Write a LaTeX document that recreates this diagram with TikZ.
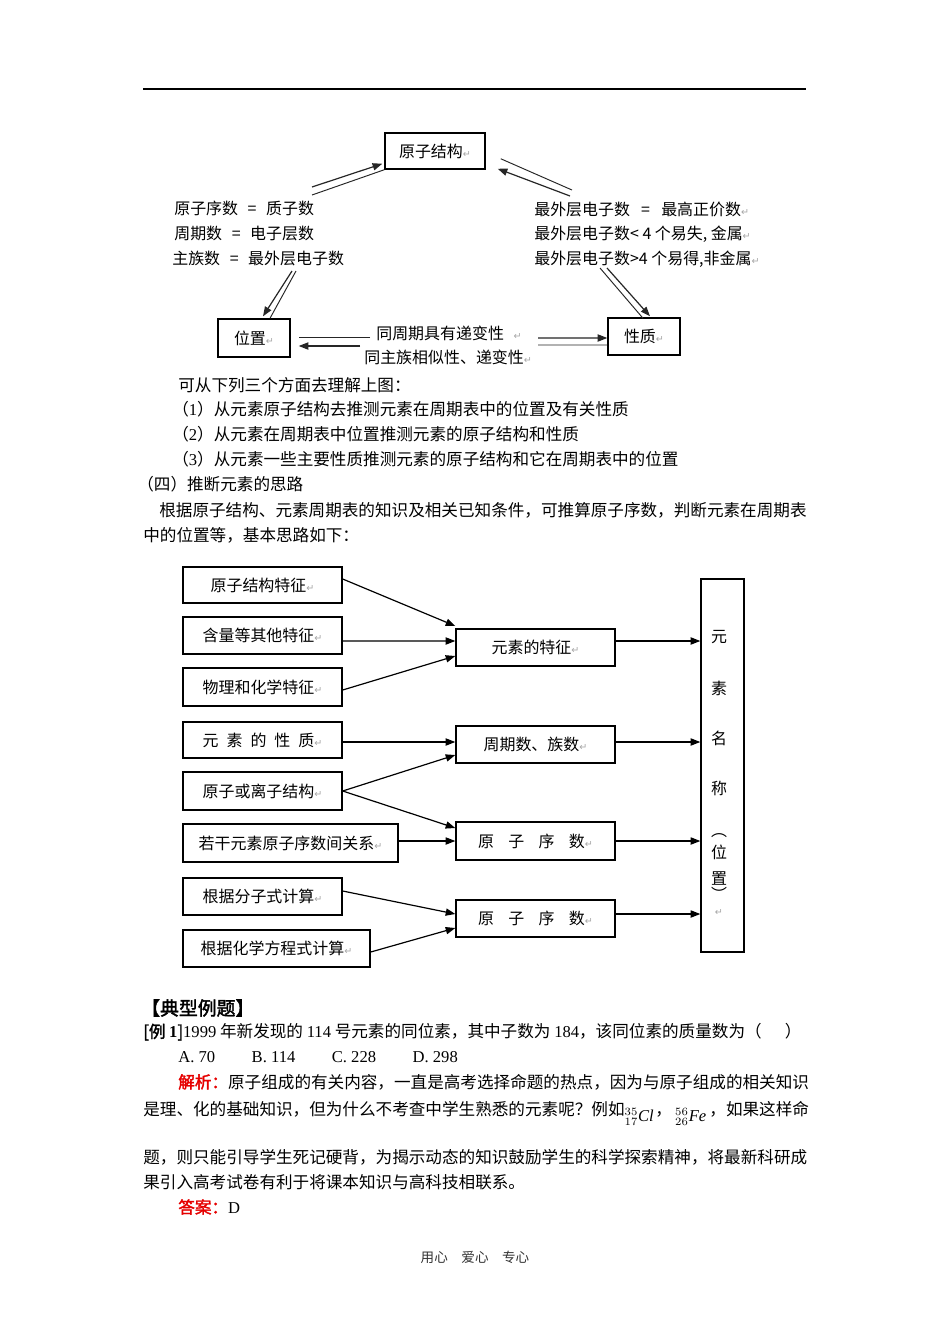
\documentclass[tikz,border=0pt]{standalone}
\usepackage{fontspec}
\setmainfont{Noto Sans CJK SC}
\newfontfamily\lat{Liberation Serif}
\newfontfamily\symf{DejaVu Sans}
\newfontfamily\cjkb{Noto Sans CJK SC}[FakeBold=2]
\usetikzlibrary{arrows.meta,calc,positioning}

\newcommand\diag{\fontsize{10}{12}\selectfont}
\newcommand\body{\fontsize{10.4}{13}\selectfont}
\newcommand\pmk{{\symf\fontsize{6}{6}\selectfont\color{gray!70}↵}}
\definecolor{ansred}{RGB}{230,0,0}

\tikzset{
  box/.style={draw, line width=0.9pt, inner sep=0pt, font=\diag},
  arr/.style={line width=0.75pt, -{Triangle[length=6pt,width=4.5pt]}},
  dline/.style={line width=0.6pt, black!85},
  lbl/.style={anchor=west, inner sep=0pt, font=\diag},
  vch/.style={inner sep=0pt, font=\diag},
  txt/.style={anchor=west, inner sep=0pt, font=\body},
}

\begin{document}
\begin{tikzpicture}[x=0.6266pt,y=0.6266pt,yscale=-1]
\fill[white] (0,0) rectangle (950,1344);
\useasboundingbox (0,0) rectangle (950,1344);

% header rule
\draw[line width=0.7pt] (143,89) -- (806,89);

% upper figure
\node[box, minimum width=62.7pt, minimum height=22.6pt] (jg) at (435,151) {原子结构\pmk};
\node[box, minimum width=45.1pt, minimum height=23.8pt] (wz) at (254,338) {位置\pmk};
\node[box, minimum width=45.1pt, minimum height=23.2pt] (xz) at (644,336.5) {性质\pmk};

\node[lbl] (l1) at (174,208) {原子序数\hspace{0.6em}=\hspace{0.6em}质子数};
\node[lbl] (l2) at (174,233) {周期数\hspace{0.6em}=\hspace{0.6em}电子层数};
\node[lbl] (l3) at (172,258) {主族数\hspace{0.6em}=\hspace{0.6em}最外层电子数};
\node[lbl] (r1) at (534,209) {最外层电子数\hspace{0.7em}=\hspace{0.7em}最高正价数\pmk};
\node[lbl] (r2) at (534,234) {最外层电子数< 4 个易失, 金属\pmk};
\node[lbl] (r3) at (534,259) {最外层电子数>4 个易得,非金属\pmk};
\node[lbl] (b1) at (376,333) {同周期具有递变性\hspace{0.6em}\pmk};
\node[lbl] (b2) at (364,357) {同主族相似性、递变性\pmk};

\coordinate (p1) at (312,187);
\coordinate (p2) at (312,195);
\coordinate (q1) at (572,190);
\coordinate (q2) at (570,196);
\coordinate (s1) at (292,271);
\coordinate (s2) at (296,271);
\coordinate (t1) at (600,268);
\coordinate (t2) at (607,268);
\coordinate (u1) at (370,337);
\coordinate (u2) at (360,346);
\coordinate (w1) at (538,338);
\coordinate (w2) at (538,345);

\draw[dline, arr] (p1) -- ($(jg.south west)+(-2,-6)$);
\draw[dline] (p2) -- (jg.south west);
\draw[dline] (q1) -- ($(jg.south east)+(15,-11)$);
\draw[dline, arr] (q2) -- ($(jg.south east)+(12,-1)$);
\draw[dline, arr] (s1) -- ($(wz.north)+(9,-2)$);
\draw[dline] (s2) -- ($(wz.north)+(16,0)$);
\draw[dline] (t1) -- ($(xz.north)+(-1,1)$);
\draw[dline, arr] (t2) -- ($(xz.north)+(6,-1)$);
\draw[dline] (u1) -- ($(wz.east)+(8,-1)$);
\draw[dline, arr] (u2) -- ($(wz.east)+(8,8)$);
\draw[dline, arr] (w1) -- ($(xz.west)+(0,1.5)$);
\draw[dline] (w2) -- ($(xz.west)+(0,8.5)$);

% text between the figures
\node[txt] (c0) at (178,385) {可从下列三个方面去理解上图：};
\node[txt] (c1) at (172,409) {（{\lat 1}）从元素原子结构去推测元素在周期表中的位置及有关性质};
\node[txt] (c2) at (172,434) {（{\lat 2}）从元素在周期表中位置推测元素的原子结构和性质};
\node[txt] (c3) at (172,459) {（{\lat 3}）从元素一些主要性质推测元素的原子结构和它在周期表中的位置};
\node[txt] (c4) at (137,484) {（四）推断元素的思路};
\node[txt] (c5) at (159,510) {根据原子结构、元素周期表的知识及相关已知条件，可推算原子序数，判断元素在周期表};
\node[txt] (c6) at (143,535) {中的位置等，基本思路如下：};

% lower figure
\node[box, minimum width=99.6pt, minimum height=22.6pt] (f1) at (262.5,585) {原子结构特征\pmk};
\node[box, minimum width=99.6pt, minimum height=23.2pt] (f2) at (262.5,635.5) {含量等其他特征\pmk};
\node[box, minimum width=99.6pt, minimum height=23.8pt] (f3) at (262.5,687) {物理和化学特征\pmk};
\node[box, minimum width=99.6pt, minimum height=22.6pt] (f4) at (262.5,740) {元\hspace{0.5em}素\hspace{0.5em}的\hspace{0.5em}性\hspace{0.5em}质\pmk};
\node[box, minimum width=99.6pt, minimum height=23.8pt] (f5) at (262.5,791) {原子或离子结构\pmk};
\node[box, minimum width=134.7pt, minimum height=23.8pt] (f6) at (290.5,843) {若干元素原子序数间关系\pmk};
\node[box, minimum width=99.6pt, minimum height=23.2pt] (f7) at (262.5,896.5) {根据分子式计算\pmk};
\node[box, minimum width=117.2pt, minimum height=23.2pt] (f8) at (276.5,948.5) {根据化学方程式计算\pmk};

\node[box, minimum width=99.6pt, minimum height=23.2pt] (m1) at (535.5,647.5) {元素的特征\pmk};
\node[box, minimum width=99.6pt, minimum height=23.2pt] (m2) at (535.5,744.5) {周期数、族数\pmk};
\node[box, minimum width=99.6pt, minimum height=23.8pt] (m3) at (535.5,841) {原\hspace{0.9em}子\hspace{0.9em}序\hspace{0.9em}数\pmk};
\node[box, minimum width=99.6pt, minimum height=23.2pt] (m4) at (535.5,918.5) {原\hspace{0.9em}子\hspace{0.9em}序\hspace{0.9em}数\pmk};

\node[box, minimum width=26.9pt, minimum height=233.7pt] (mz) at (722.5,765.5) {};
\node[vch] (v1) at (719,637) {元};
\node[vch] (v2) at (719,688) {素};
\node[vch] (v3) at (719,738) {名};
\node[vch] (v4) at (719,788) {称};
\node[vch] (v5) at (719,836) {︵};
\node[vch] (v6) at (719,852) {位};
\node[vch] (v7) at (719,878) {置};
\node[vch] (v8) at (719,894) {︶};
\node[vch] (v9) at (719,912) {\pmk};

\draw[arr] ($(f1.east)+(0,-6)$) -- ($(m1.west)+(0,-21.5)$);
\draw[arr] ($(f2.east)+(0,5.5)$) -- ($(m1.west)+(0,-6.5)$);
\draw[arr] ($(f3.east)+(0,3)$) -- ($(m1.west)+(0,8.5)$);
\draw[arr] ($(f4.east)+(0,2)$) -- ($(m2.west)+(0,-2.5)$);
\draw[arr] (f5.east) -- ($(m2.west)+(0,10.5)$);
\draw[arr] (f5.east) -- ($(m3.west)+(0,-13)$);
\draw[arr] ($(f6.east)+(0,-2)$) -- (m3.west);
\draw[arr] ($(f7.east)+(0,-5.5)$) -- ($(m4.west)+(0,-4.5)$);
\draw[arr] ($(f8.east)+(0,3.5)$) -- ($(m4.west)+(0,9.5)$);

\draw[arr] ($(m1.east)+(0,-6.5)$) -- ($(m1.east -| mz.west)+(0,-6.5)$);
\draw[arr] ($(m2.east)+(0,-2.5)$) -- ($(m2.east -| mz.west)+(0,-2.5)$);
\draw[arr] (m3.east) -- (m3.east -| mz.west);
\draw[arr] ($(m4.east)+(0,-4.5)$) -- ($(m4.east -| mz.west)+(0,-4.5)$);

% example
\node[txt, font=\fontsize{11.8}{14}\selectfont] (h1) at (141,1008) {\cjkb 【典型例题】};
\node[txt] (e1) at (143,1032) {{\cjkb [例 {\lat\bfseries 1}]}{\lat 1999} 年新发现的 {\lat 114} 号元素的同位素，其中子数为 {\lat 184}，该同位素的质量数为（\hspace{1.4em}）};
\node[txt] (e2) at (178,1057) {\lat A. 70\hspace{2.2em}B. 114\hspace{2.2em}C. 228\hspace{2.2em}D. 298};
\node[txt] (e3) at (178,1082) {\textcolor{ansred}{\cjkb 解析：}原子组成的有关内容，一直是高考选择命题的热点，因为与原子组成的相关知识};
\node[txt, anchor=base west] (e4) at (143,1115) {是理、化的基础知识，但为什么不考查中学生熟悉的元素呢？例如\raisebox{-4pt}{$^{35}_{17}${\lat\itshape Cl}}\hspace{1pt}，\hspace{2pt}\raisebox{-4pt}{$^{56}_{26}${\lat\itshape Fe}}\hspace{2pt}，如果这样命};
\node[txt] (e5) at (143,1157) {题，则只能引导学生死记硬背，为揭示动态的知识鼓励学生的科学探索精神，将最新科研成};
\node[txt] (e6) at (143,1182) {果引入高考试卷有利于将课本知识与高科技相联系。};
\node[txt] (e7) at (178,1207) {\textcolor{ansred}{\cjkb 答案：}{\lat D}};

% footer
\node[inner sep=0pt, font=\fontsize{8.5}{10}\selectfont, black!80] (ft) at (475,1257) {用心\hspace{1em}爱心\hspace{1em}专心};
\end{tikzpicture}
\end{document}
